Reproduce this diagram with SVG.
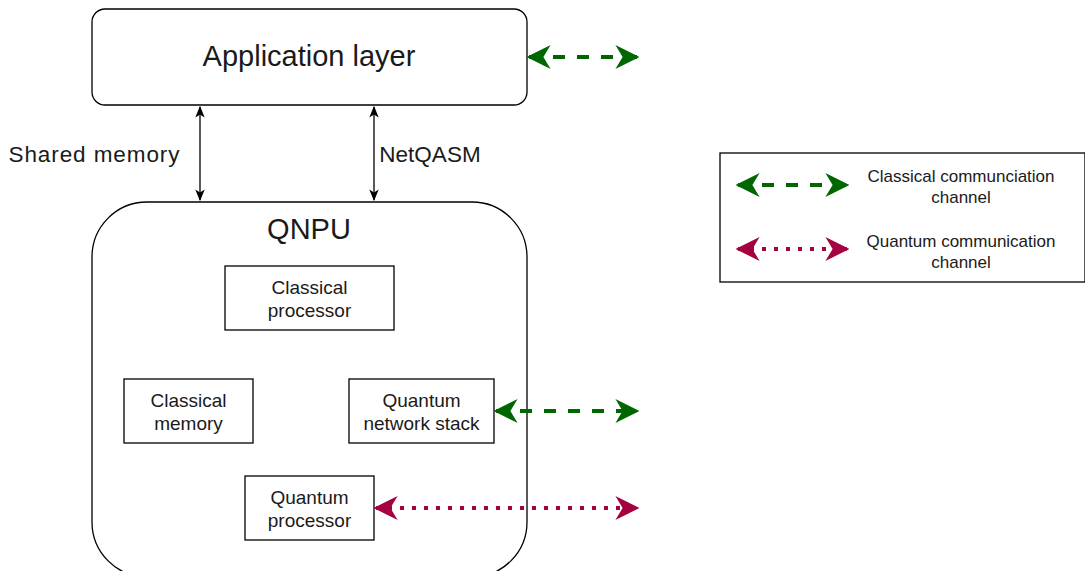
<svg xmlns="http://www.w3.org/2000/svg" width="1085" height="571" viewBox="0 0 1085 571">
<style>
.box{fill:#fff;stroke:#000;stroke-width:1.3}
text{font-family:"Liberation Sans",Arial,sans-serif;fill:#1a1a1a;text-anchor:middle}
.lbl{font-size:19px}
.big{font-size:29px}
.side{font-size:22.5px}
.leg{font-size:17px}
.cls{stroke:#006600;stroke-width:4;stroke-dasharray:12 12;fill:none}
.qtm{stroke:#A50040;stroke-width:4;stroke-dasharray:4 8;fill:none}
.thin{stroke:#000;stroke-width:1.3;fill:none}
</style>
<defs>
<marker id="ga" viewBox="0 0 10 10" refX="9" refY="5" markerWidth="6" markerHeight="6" orient="auto-start-reverse" markerUnits="strokeWidth"><path d="M0,0 L10,5 L0,10 L3,5 Z" fill="#006600"/></marker>
<marker id="qa" viewBox="0 0 10 10" refX="9" refY="5" markerWidth="6" markerHeight="6" orient="auto-start-reverse" markerUnits="strokeWidth"><path d="M0,0 L10,5 L0,10 L3,5 Z" fill="#A50040"/></marker>
<marker id="ba" viewBox="0 0 10 10" refX="9" refY="5" markerWidth="9" markerHeight="9" orient="auto-start-reverse" markerUnits="strokeWidth"><path d="M0,1 L10,5 L0,9 L2.5,5 Z" fill="#000"/></marker>
</defs>
<g id="app"><rect class="box" x="92" y="9" width="435" height="96" rx="13"/><text class="big" x="309" y="66">Application layer</text></g>
<g id="qnpu"><rect class="box" x="92" y="202" width="435" height="375" rx="55"/><text class="big" x="309" y="239">QNPU</text></g>
<g id="cproc"><rect class="box" x="225" y="266" width="169" height="64"/><text class="lbl" x="309.5" y="294">Classical</text><text class="lbl" x="309.5" y="317">processor</text></g>
<g id="cmem"><rect class="box" x="124" y="379" width="129" height="64"/><text class="lbl" x="188.5" y="407">Classical</text><text class="lbl" x="188.5" y="430">memory</text></g>
<g id="qns"><rect class="box" x="349" y="379" width="145" height="64"/><text class="lbl" x="421.5" y="407">Quantum</text><text class="lbl" x="421.5" y="430">network stack</text></g>
<g id="qproc"><rect class="box" x="245" y="476" width="129" height="64"/><text class="lbl" x="309.5" y="504">Quantum</text><text class="lbl" x="309.5" y="527">processor</text></g>
<g id="labels"><text class="side" x="94" y="162" textLength="171">Shared memory</text><text class="side" x="430" y="162">NetQASM</text></g>
<g id="connectors">
<line class="thin" x1="200" y1="107" x2="200" y2="200" marker-start="url(#ba)" marker-end="url(#ba)"/>
<line class="thin" x1="374" y1="107" x2="374" y2="200" marker-start="url(#ba)" marker-end="url(#ba)"/>
<line class="cls" x1="529" y1="57" x2="637" y2="57" marker-start="url(#ga)" marker-end="url(#ga)"/>
<line class="cls" x1="496" y1="411" x2="637" y2="411" marker-start="url(#ga)" marker-end="url(#ga)"/>
<line class="qtm" x1="376" y1="508" x2="637" y2="508" marker-start="url(#qa)" marker-end="url(#qa)"/>
</g>
<g id="legend">
<rect class="box" x="720" y="153" width="365" height="129"/>
<line class="cls" x1="738" y1="185" x2="847" y2="185" marker-start="url(#ga)" marker-end="url(#ga)"/>
<line class="qtm" x1="738" y1="249" x2="847" y2="249" marker-start="url(#qa)" marker-end="url(#qa)"/>
<text class="leg" x="961" y="182">Classical communciation</text>
<text class="leg" x="961" y="203">channel</text>
<text class="leg" x="961" y="247">Quantum communication</text>
<text class="leg" x="961" y="268">channel</text>
</g>
</svg>
